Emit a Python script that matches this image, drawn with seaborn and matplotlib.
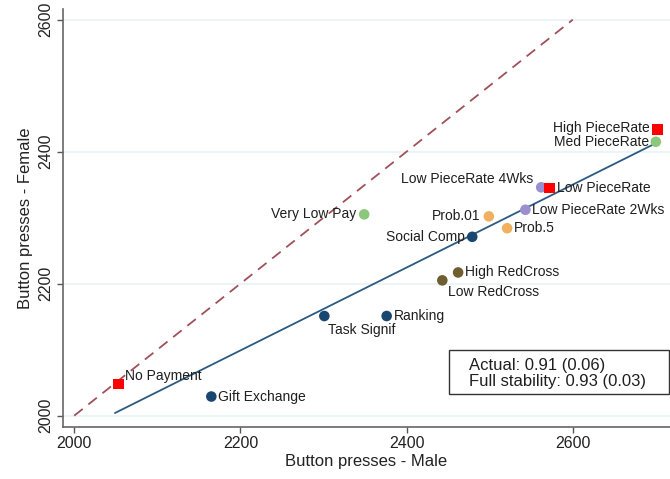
import matplotlib
matplotlib.use("Agg")
import matplotlib.pyplot as plt
import seaborn as sns
import pandas as pd
from matplotlib.patches import Rectangle

# ---- data ----
labels = ["No Payment", "Gift Exchange", "Task Signif", "Ranking", "Low RedCross",
          "High RedCross", "Social Comp", "Prob.01", "Prob.5", "Low PieceRate 2Wks",
          "Low PieceRate 4Wks", "Low PieceRate", "High PieceRate", "Med PieceRate",
          "Very Low Pay"]
male = [2053, 2165, 2301, 2376, 2443, 2462, 2479, 2499, 2521, 2543, 2562, 2572, 2702, 2700, 2349]
female = [2048, 2029, 2151, 2151, 2205, 2217, 2271, 2302, 2284, 2312, 2346, 2345, 2433, 2415, 2305]
group = ["piece", "navy", "navy", "navy", "redcross", "redcross", "navy", "prob", "prob",
         "weeks", "weeks", "piece", "piece", "green", "green"]

fit_x = [2049, 2697]
fit_y = [2004, 2411]
diag = [2000, 2600]

stats_text = "Actual: 0.91 (0.06)\nFull stability: 0.93 (0.03)"

# ---- styling ----
palette = {"piece": "#ff0000", "navy": "#1a476f", "redcross": "#6e5e30",
           "prob": "#f0b060", "weeks": "#9b8fcf", "green": "#8cc87c"}
# label placement: (dx px, dy px, ha)
place = {
    "No Payment": (7, 8, "left"), "Gift Exchange": (7, 0, "left"),
    "Task Signif": (4, -14, "left"), "Ranking": (7, 0, "left"),
    "Low RedCross": (6, -12, "left"), "High RedCross": (7, 0, "left"),
    "Social Comp": (-7, 0, "right"), "Prob.01": (-8, 0, "right"),
    "Prob.5": (7, 0, "left"), "Low PieceRate 2Wks": (7, 0, "left"),
    "Low PieceRate 4Wks": (-8, 8, "right"), "Low PieceRate": (7, 0, "left"),
    "High PieceRate": (-8, 2, "right"), "Med PieceRate": (-7, 0, "right"),
    "Very Low Pay": (-8, 0, "right"),
}

sns.set_theme(style="white")
plt.rcParams["font.family"] = ["Liberation Sans", "DejaVu Sans"]

df = pd.DataFrame({"label": labels, "male": male, "female": female, "group": group})

fig = plt.figure(figsize=(6.7, 4.79), dpi=100)
ax = fig.add_axes([63 / 670, 1 - 426.7 / 479, 1 - 63 / 670, (426.7 - 9.3) / 479])

for yv in [2000, 2200, 2400, 2600]:
    ax.axhline(yv, color="#eaf2f3", lw=1.2, zorder=0)

sns.lineplot(x=diag, y=diag, ax=ax, color="#a0505a", lw=1.3, linestyle=(0, (6, 4)), zorder=2)
sns.lineplot(x=fit_x, y=fit_y, ax=ax, color="#2b5a82", lw=1.3, zorder=2)

circ = df[df.group != "piece"]
sq = df[df.group == "piece"]
sns.scatterplot(data=circ, x="male", y="female", hue="group", palette=palette,
                s=58, marker="o", linewidth=0, ax=ax, legend=False, zorder=3)
sns.scatterplot(data=sq, x="male", y="female", hue="group", palette=palette,
                s=62, marker="s", linewidth=0, ax=ax, legend=False, zorder=4)

for lab, xv, yv in zip(labels, male, female):
    dx, dy, ha = place[lab]
    ax.annotate(lab, (xv, yv), xytext=(dx, dy), textcoords="offset pixels",
                ha=ha, va="center", fontsize=10, color="#1f1f1f", zorder=5)

ax.set_xlim(1986.5, 2717)
ax.set_ylim(1983.3, 2615.7)
ax.set_xticks([2000, 2200, 2400, 2600])
ax.set_yticks([2000, 2200, 2400, 2600])
ax.set_xlabel("Button presses - Male", fontsize=12, color="#222222", labelpad=2)
ax.set_ylabel("Button presses - Female", fontsize=12, color="#222222", labelpad=4)
ax.tick_params(axis="both", which="major", length=4, width=1, color="#555555",
               labelsize=11.5, labelcolor="#222222", bottom=True, left=True, pad=3)
for lbl in ax.get_yticklabels():
    lbl.set_rotation(90)
    lbl.set_va("center")
for side in ["top", "right"]:
    ax.spines[side].set_visible(False)
for side in ["left", "bottom"]:
    ax.spines[side].set_color("#666666")
    ax.spines[side].set_linewidth(1.2)

fig.patches.append(Rectangle((448.7 / 670, 1 - 394.3 / 479), 220 / 670, 44.3 / 479,
                             transform=fig.transFigure, fill=False, edgecolor="#333333",
                             lw=1.0, zorder=6))
fig.text(469 / 670, 1 - 373.5 / 479, stats_text, ha="left", va="center",
         fontsize=12, color="#1f1f1f", linespacing=1.05)

fig.savefig("out.png", dpi=100)
